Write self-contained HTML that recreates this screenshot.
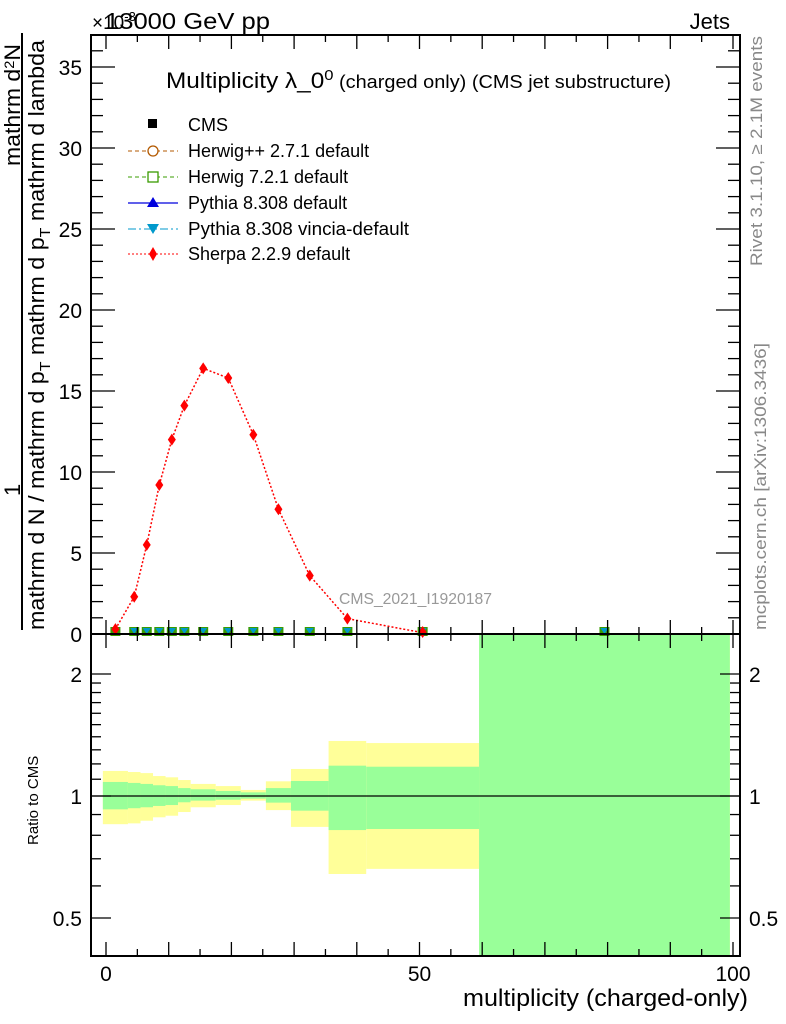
<!DOCTYPE html>
<html><head><meta charset="utf-8"><style>
html,body{margin:0;padding:0;background:#fff;}
svg{display:block;font-family:"Liberation Sans",sans-serif;}
</style></head><body>
<svg id="chart" width="786" height="1024" viewBox="0 0 786 1024" xmlns="http://www.w3.org/2000/svg">
<g id="ratio-bands"></g>
<g id="main-marks"></g>
<g id="axes"></g>
<text x="105" y="29" font-size="23" textLength="165" lengthAdjust="spacingAndGlyphs">13000 GeV pp</text>
<text x="92" y="29" font-size="19">×10<tspan dy="-8" font-size="13">-3</tspan></text>
<text x="730" y="29" font-size="22" text-anchor="end">Jets</text>
<text x="166" y="88" font-size="22" textLength="505" lengthAdjust="spacingAndGlyphs">Multiplicity λ_0<tspan dy="-8" font-size="15">0</tspan><tspan dy="8" font-size="18"> (charged only) (CMS jet substructure)</tspan></text>
<text x="339" y="604" font-size="16" fill="#999" textLength="153" lengthAdjust="spacingAndGlyphs">CMS_2021_I1920187</text>
<text transform="translate(762,266) rotate(-90)" font-size="17" fill="#888" textLength="230" lengthAdjust="spacingAndGlyphs">Rivet 3.1.10, ≥ 2.1M events</text>
<text transform="translate(766,630) rotate(-90)" font-size="17" fill="#888" textLength="287" lengthAdjust="spacingAndGlyphs">mcplots.cern.ch [arXiv:1306.3436]</text>
<g>
<text transform="translate(20,166) rotate(-90)" font-size="22" textLength="122" lengthAdjust="spacingAndGlyphs">mathrm d<tspan dy="-6" font-size="14">2</tspan><tspan dy="6">N</tspan></text>
<text transform="translate(20,496) rotate(-90)" font-size="22">1</text>
<line x1="22" y1="630" x2="22" y2="33" stroke="#000" stroke-width="2"/>
<text transform="translate(44,630) rotate(-90)" font-size="22" textLength="590" lengthAdjust="spacingAndGlyphs">mathrm d N / mathrm d p<tspan dy="6" font-size="15">T</tspan><tspan dy="-6"> mathrm d p</tspan><tspan dy="6" font-size="15">T</tspan><tspan dy="-6"> mathrm d lambda</tspan></text>
</g>
<text transform="translate(38,845) rotate(-90)" font-size="15">Ratio to CMS</text>
<text x="748" y="1006" font-size="24" text-anchor="end" textLength="285" lengthAdjust="spacingAndGlyphs">multiplicity (charged-only)</text>
<g>
<rect x="148" y="119" width="9" height="9" fill="#000"/>
<text x="188" y="131" font-size="18">CMS</text>
<line x1="128" y1="151" x2="178" y2="151" stroke="#b35900" stroke-dasharray="4,3"/>
<circle cx="153" cy="151" r="5" fill="#fff" stroke="#b35900" stroke-width="1.3"/>
<text x="188" y="157" font-size="18">Herwig++ 2.7.1 default</text>
<line x1="128" y1="177" x2="178" y2="177" stroke="#3a9c00" stroke-dasharray="4,3"/>
<rect x="148" y="172" width="10" height="10" fill="#fff" stroke="#3a9c00" stroke-width="1.3"/>
<text x="188" y="183" font-size="18">Herwig 7.2.1 default</text>
<line x1="128" y1="203" x2="178" y2="203" stroke="#0000dd" stroke-width="1.3"/>
<polygon points="153,197 159,207 147,207" fill="#0000dd"/>
<text x="188" y="209" font-size="18">Pythia 8.308 default</text>
<line x1="128" y1="229" x2="178" y2="229" stroke="#0099cc" stroke-dasharray="8,3,2,3"/>
<polygon points="147,224 159,224 153,234" fill="#0099cc"/>
<text x="188" y="235" font-size="18" textLength="221" lengthAdjust="spacingAndGlyphs">Pythia 8.308 vincia-default</text>
<line x1="128" y1="254" x2="178" y2="254" stroke="#ff0000" stroke-dasharray="2,2"/>
<polygon points="153,247 157,254 153,261 149,254" fill="#ff0000"/>
<text x="188" y="260" font-size="18">Sherpa 2.2.9 default</text>
</g>
</svg>
<script>
const binEdges = [-0.5,3.5,5.5,7.5,9.5,11.5,13.5,17.5,21.5,25.5,29.5,35.5,41.5,59.5,99.5];
const sherpaValues = [0.3,2.3,5.5,9.2,12.0,14.1,16.4,15.8,12.3,7.7,3.6,0.95,0.08,0.05];
const mcValues = [0.02,0.02,0.02,0.02,0.02,0.02,0.02,0.02,0.02,0.02,0.02,0.02,0.02,0.02];
const bandYellowUp = [1.153,1.146,1.139,1.120,1.112,1.095,1.071,1.058,1.035,1.087,1.166,1.367,1.351,3];
const bandGreenUp  = [1.083,1.077,1.071,1.063,1.058,1.046,1.039,1.029,1.021,1.046,1.089,1.188,1.181,3];
const bandGreenLo  = [0.927,0.933,0.938,0.945,0.950,0.965,0.974,0.979,0.985,0.963,0.920,0.824,0.829,0.3];
const bandYellowLo = [0.852,0.856,0.869,0.886,0.894,0.913,0.938,0.950,0.974,0.923,0.839,0.642,0.661,0.3];
const xTickLabels = [0,50,100];
const yTickLabels = [0,5,10,15,20,25,30,35];
const ratioTickLabels = [0.5,1,2];

const NS='http://www.w3.org/2000/svg';
const L=91,R=740,T=35,MB=634,RB=956;
const X=v=>106+v*6.27;
const Y=v=>634-v*16.2;
const RY=r=>Math.max(MB,Math.min(RB,796-Math.log2(r)*122));
function mk(tag,attrs,parent){const e=document.createElementNS(NS,tag);for(const k in attrs)e.setAttribute(k,attrs[k]);parent.appendChild(e);return e;}
const bands=document.getElementById('ratio-bands');
const marks=document.getElementById('main-marks');
const axes=document.getElementById('axes');
for(let i=0;i<binEdges.length-1;i++){
  const x0=X(binEdges[i]),x1=X(binEdges[i+1]);
  const yb=mk('rect',{x:x0,y:RY(bandYellowUp[i]),width:x1-x0,height:RY(bandYellowLo[i])-RY(bandYellowUp[i]),fill:'#ffff99'},bands);
  
  
  const gb=mk('rect',{x:x0,y:RY(bandGreenUp[i]),width:x1-x0,height:RY(bandGreenLo[i])-RY(bandGreenUp[i]),fill:'#99ff99'},bands);
  
  
}
mk('line',{x1:L,x2:R,y1:RY(1),y2:RY(1),stroke:'#000','stroke-width':1.3},bands);
const centers=[];
for(let i=0;i<binEdges.length-1;i++)centers.push((binEdges[i]+binEdges[i+1])/2);
centers.forEach((c,i)=>{
  const cx=X(c),cy=Math.min(Y(mcValues[i]),631);
  const sq=mk('rect',{x:cx-5,y:cy-4,width:10,height:9,fill:'#3a9c00'},marks);
  
  
  const tr=mk('polygon',{points:`${cx-4},${cy-3} ${cx+4},${cy-3} ${cx},${cy+3}`,fill:'#0099cc'},marks);
  
  
});
const pts=centers.slice(0,sherpaValues.length-1).map((c,i)=>`${X(c)},${Y(sherpaValues[i])}`).join(' ');
const pl=mk('polyline',{points:pts,fill:'none',stroke:'#ff0000','stroke-width':1.5,'stroke-dasharray':'2,2'},marks);


centers.forEach((c,i)=>{
  if(i>=sherpaValues.length-1)return;
  const cx=X(c),cy=Math.min(Y(sherpaValues[i]),632);
  const d=mk('polygon',{points:`${cx},${cy-6} ${cx+4},${cy} ${cx},${cy+6} ${cx-4},${cy}`,fill:'#ff0000'},marks);
  
  
});
[[T,MB],[MB,RB]].forEach(([a,b])=>{mk('rect',{x:L,y:a,width:R-L,height:b-a,fill:'none',stroke:'#000','stroke-width':2},axes);});
for(let v=0;v<=100;v+=5){
  const x=X(v),len=(v%10===0)?14:7;
  [[MB,-1],[T,1],[RB,-1],[MB,1]].forEach(([y,s])=>mk('line',{x1:x,x2:x,y1:y,y2:y+s*len,stroke:'#000','stroke-width':1.3},axes));
}
xTickLabels.forEach(v=>{const t=mk('text',{x:X(v),y:981,'font-size':21,'text-anchor':'middle'},axes);t.textContent=v;

});
for(let v=0;v<=36;v++){
  const y=Y(v),len=(v%5===0)?24:12;
  mk('line',{x1:L,x2:L+len,y1:y,y2:y,stroke:'#000','stroke-width':1.3},axes);
  mk('line',{x1:R,x2:R-len,y1:y,y2:y,stroke:'#000','stroke-width':1.3},axes);
}
yTickLabels.forEach(v=>{const t=mk('text',{x:82,y:Y(v)+8,'font-size':21,'text-anchor':'end'},axes);t.textContent=v;

});
const minors=[0.5,0.6,0.7,0.8,0.9,1,1.1,1.2,1.3,1.4,1.5,1.6,1.7,1.8,1.9,2];
minors.forEach(r=>{
  const y=RY(r),len=ratioTickLabels.includes(r)?20:10;
  mk('line',{x1:L,x2:L+len,y1:y,y2:y,stroke:'#000','stroke-width':1.3},axes);
  mk('line',{x1:R,x2:R-len,y1:y,y2:y,stroke:'#000','stroke-width':1.3},axes);
});
ratioTickLabels.forEach(r=>{
  const t=mk('text',{x:82,y:RY(r)+8,'font-size':21,'text-anchor':'end'},axes);t.textContent=r;
  
  
  const t2=mk('text',{x:749,y:RY(r)+8,'font-size':21},axes);t2.textContent=r;
  
  
});
</script>
</body></html>
